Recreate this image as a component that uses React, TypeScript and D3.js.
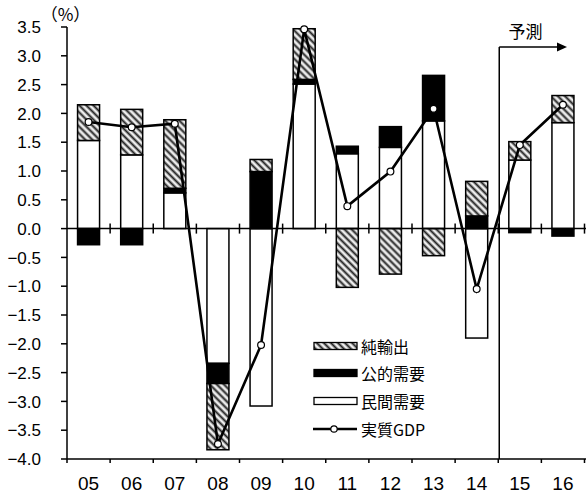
import React from 'react';
import * as d3 from 'd3';

const years = ['05', '06', '07', '08', '09', '10', '11', '12', '13', '14', '15', '16'];
const privateDemand = [1.53, 1.28, 0.62, -2.34, -3.08, 2.51, 1.30, 1.41, 1.87, -1.90, 1.19, 1.84];
const publicDemand = [-0.28, -0.28, 0.08, -0.35, 0.99, 0.08, 0.13, 0.36, 0.79, 0.22, -0.07, -0.13];
const netExports = [0.62, 0.79, 1.19, -1.15, 0.21, 0.88, -1.02, -0.79, -0.47, 0.60, 0.32, 0.47];
const realGdp = [1.85, 1.76, 1.82, -3.74, -2.02, 3.46, 0.39, 0.99, 2.08, -1.05, 1.45, 2.15];
const yTicks = d3.range(-4, 3.51, 0.5);
const forecastFrom = '15';

const W = 586;
const H = 493;
const FONT = '"Liberation Sans", Arial, "Noto Sans CJK JP", sans-serif';
const JP = '"Noto Sans CJK JP", "Liberation Sans", sans-serif';

const App: React.FC = () => {
    const x = d3.scaleBand<string>().domain(years).range([67, 584.5]).paddingInner(0.49).paddingOuter(0.245);
    const step = x.step();
    const y = d3.scaleLinear().domain([-4, 3.5]).range([459, 27]);
    const fmt = d3.format('.1f');

    const rows = years.map((yr, i) => ({
        year: yr,
        private: privateDemand[i],
        public: publicDemand[i],
        net: netExports[i],
    }));
    const keys = ['private', 'public', 'net'];
    const series = d3.stack<any>().keys(keys).offset(d3.stackOffsetDiverging)(rows);
    const fills: Record<string, string> = { private: '#fff', public: '#000', net: 'url(#hatch)' };

    const line = d3.line<number>()
        .x((_, i) => (x(years[i]) as number) + x.bandwidth() / 2)
        .y(d => y(d));

    const bounds = years.map((_, i) => 67 + (i + 1) * step);
    const fx = (x(forecastFrom) as number) - step * 0.245 + 1;
    const y0 = y(0);
    const yBottom = y(-4);

    const legendX = 313;
    const legend = [
        { label: '純輸出', kind: 'net', cy: 346 },
        { label: '公的需要', kind: 'public', cy: 373 },
        { label: '民間需要', kind: 'private', cy: 401 },
        { label: '実質GDP', kind: 'gdp', cy: 429 },
    ];

    return (
        <div style={{ position: 'absolute', left: 0, top: 0 }}>
            <svg width={W} height={H} style={{ display: 'block', background: '#fff' }}>
                <defs>
                    <pattern id="hatch" patternUnits="userSpaceOnUse" width={5} height={5} patternTransform="rotate(-45)">
                        <rect width={5} height={5} fill="#ececec" />
                        <line x1={1.5} y1={0} x2={1.5} y2={5} stroke="#222" strokeWidth={2} />
                    </pattern>
                </defs>

                {/* bars */}
                {series.map(s => (
                    <g key={s.key}>
                        {s.map((d, i) => {
                            const top = y(Math.max(d[0], d[1]));
                            const bot = y(Math.min(d[0], d[1]));
                            if (bot - top < 0.01) return null;
                            return (
                                <rect key={i} x={x(years[i])} y={top} width={x.bandwidth()} height={bot - top}
                                    fill={fills[s.key]} stroke="#000" strokeWidth={1.5} />
                            );
                        })}
                    </g>
                ))}

                {/* y axis */}
                <line x1={67} x2={67} y1={y(3.5)} y2={yBottom} stroke="#000" strokeWidth={1.5} />
                {yTicks.map(t => (
                    <g key={t}>
                        <line x1={61} x2={67} y1={y(t)} y2={y(t)} stroke="#000" strokeWidth={1.5} />
                        <text x={41} y={y(t)} dy="0.36em" textAnchor="end" fontFamily={FONT} fontSize={17} fill="#000">
                            {fmt(t)}
                        </text>
                    </g>
                ))}
                <text x={65.5} y={21} textAnchor="middle" fontFamily={JP} fontSize={17} fill="#000">（%）</text>

                {/* zero line with crossing ticks */}
                <line x1={67} x2={W} y1={y0} y2={y0} stroke="#000" strokeWidth={1.5} />
                {bounds.map((b, i) => (
                    <line key={i} x1={b} x2={b} y1={y0 - 5} y2={y0 + 5} stroke="#000" strokeWidth={1.5} />
                ))}

                {/* bottom axis */}
                <line x1={67} x2={W} y1={yBottom} y2={yBottom} stroke="#000" strokeWidth={1.5} />
                {[67, ...bounds].map((b, i) => (
                    <line key={i} x1={b} x2={b} y1={yBottom} y2={yBottom + 4} stroke="#000" strokeWidth={1.5} />
                ))}
                {years.map(yr => (
                    <text key={yr} x={(x(yr) as number) + x.bandwidth() / 2} y={490} textAnchor="middle"
                        fontFamily={FONT} fontSize={19} fill="#000">{yr}</text>
                ))}

                {/* forecast marker */}
                <line x1={fx} x2={fx} y1={47} y2={yBottom} stroke="#000" strokeWidth={1.5} />
                <line x1={fx} x2={560} y1={47} y2={47} stroke="#000" strokeWidth={1.5} />
                <path d={`M567,47 L557,42.5 L557,51.5 Z`} fill="#000" />
                <text x={525.5} y={38} textAnchor="middle" fontFamily={JP} fontSize={17} fill="#000">予測</text>

                {/* GDP line */}
                <path d={line(realGdp) || ''} fill="none" stroke="#000" strokeWidth={2.6} strokeLinejoin="miter" />
                {realGdp.map((v, i) => (
                    <circle key={i} cx={(x(years[i]) as number) + x.bandwidth() / 2} cy={y(v)} r={3.4}
                        fill="#fff" stroke="#000" strokeWidth={1.2} />
                ))}

                {/* legend */}
                {legend.map(l => (
                    <g key={l.label}>
                        {l.kind === 'gdp' ? (
                            <g>
                                <line x1={legendX} x2={legendX + 44} y1={l.cy} y2={l.cy} stroke="#000" strokeWidth={2.6} />
                                <circle cx={legendX + 21} cy={l.cy} r={3.2} fill="#fff" stroke="#000" strokeWidth={1.2} />
                            </g>
                        ) : (
                            <rect x={legendX + 1} y={l.cy - 3.5} width={43} height={7}
                                fill={fills[l.kind]} stroke="#000" strokeWidth={1.3} />
                        )}
                        <text x={361} y={l.cy + 1} dy="0.36em" fontFamily={JP} fontSize={16} fill="#000">{l.label}</text>
                    </g>
                ))}
            </svg>
        </div>
    );
};

export default App;
